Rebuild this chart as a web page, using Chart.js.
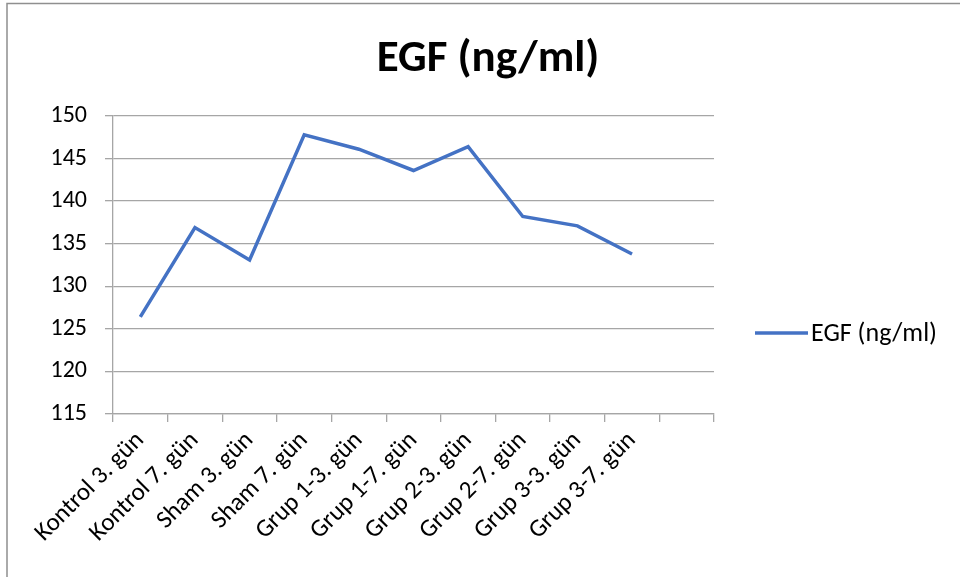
<!DOCTYPE html>
<html>
<head>
<meta charset="utf-8">
<script src="https://cdn.jsdelivr.net/npm/chart.js@4.4.1/dist/chart.umd.min.js"></script>
<style>
  html, body { margin: 0; padding: 0; background: #ffffff; }
  #wrap { width: 960px; height: 577px; position: relative; }
</style>
</head>
<body>
<div id="wrap"><canvas id="c" width="960" height="577"></canvas></div>
<script>
// Groups (the trailing empty slot leaves one blank category at the right)
const categories = [
  'Kontrol 3. gün', 'Kontrol 7. gün', 'Sham 3. gün', 'Sham 7. gün',
  'Grup 1-3. gün', 'Grup 1-7. gün', 'Grup 2-3. gün', 'Grup 2-7. gün',
  'Grup 3-3. gün', 'Grup 3-7. gün', ''
];
const seriesName = 'EGF (ng/ml)';
const egfValues = [126.4, 136.9, 133.1, 147.8, 146.1, 143.6, 146.4, 138.2, 137.1, 133.8, null];
const yTicks = [115, 120, 125, 130, 135, 140, 145, 150];

const FONT = "Carlito, Calibri, Lato, 'Open Sans', sans-serif";
const LINE_BLUE = '#4472C4';
const GRID = '#a6a6a6';

// Frame, title and right-hand legend
const decor = {
  id: 'decor',
  beforeDraw(chart) {
    const ctx = chart.ctx;
    ctx.save();
    ctx.fillStyle = '#ffffff';
    ctx.fillRect(0, 0, chart.width, chart.height);
    ctx.strokeStyle = '#8f8f8f';
    ctx.lineWidth = 1.5;
    ctx.beginPath();
    ctx.moveTo(7, chart.height);
    ctx.lineTo(7, 3.5);
    ctx.lineTo(chart.width, 3.5);
    ctx.stroke();
    ctx.restore();
  },
  afterDraw(chart) {
    const ctx = chart.ctx;
    const ds = chart.data.datasets[0];
    ctx.save();
    // title
    ctx.fillStyle = '#000000';
    ctx.font = "bold 45px " + FONT;
    ctx.textAlign = 'center';
    ctx.textBaseline = 'alphabetic';
    ctx.fillText(seriesName, 488, 71);
    // legend
    const ly = 333;
    ctx.strokeStyle = ds.borderColor;
    ctx.lineWidth = ds.borderWidth;
    ctx.beginPath();
    ctx.moveTo(755, ly);
    ctx.lineTo(808, ly);
    ctx.stroke();
    ctx.font = "26px " + FONT;
    ctx.textAlign = 'left';
    ctx.textBaseline = 'middle';
    ctx.fillText(ds.label, 811, ly + 1);
    ctx.restore();
  }
};

new Chart(document.getElementById('c'), {
  type: 'line',
  data: {
    labels: categories,
    datasets: [{
      label: seriesName,
      data: egfValues,
      borderColor: LINE_BLUE,
      backgroundColor: LINE_BLUE,
      borderWidth: 3.5,
      pointRadius: 0,
      pointHoverRadius: 0,
      tension: 0,
      spanGaps: false
    }]
  },
  options: {
    responsive: false,
    animation: false,
    events: [],
    layout: { padding: { left: 0, right: 246, top: 116, bottom: 0 } },
    plugins: {
      legend: { display: false },
      title: { display: false },
      tooltip: { enabled: false }
    },
    scales: {
      x: {
        type: 'category',
        offset: true,
        afterFit(scale) { scale.height = 577 - 414; },
        border: { display: true, color: GRID, width: 1.3 },
        grid: {
          offset: true,
          drawOnChartArea: false,
          drawTicks: true,
          tickLength: 8,
          color: GRID,
          lineWidth: 1.3
        },
        ticks: {
          autoSkip: false,
          maxRotation: 45,
          minRotation: 45,
          padding: 4,
          color: '#000000',
          font: { family: FONT, size: 25 }
        }
      },
      y: {
        min: 115,
        max: 150,
        afterFit(scale) { scale.width = 113; },
        afterBuildTicks(scale) { scale.ticks = yTicks.map(v => ({ value: v })); },
        border: { display: true, color: GRID, width: 1.3 },
        grid: {
          drawTicks: true,
          tickLength: 8,
          color: GRID,
          lineWidth: 1.3
        },
        ticks: {
          padding: 18,
          color: '#000000',
          font: { family: FONT, size: 24 }
        }
      }
    }
  },
  plugins: [decor]
});
</script>
</body>
</html>
